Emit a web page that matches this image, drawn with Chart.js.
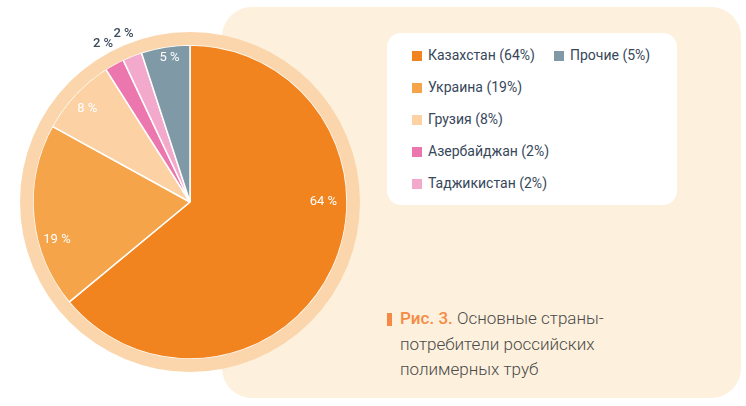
<!DOCTYPE html>
<html>
<head>
<meta charset="utf-8">
<script src="https://cdn.jsdelivr.net/npm/chart.js@4"></script>
<style>
  html, body { margin: 0; padding: 0; background: #fff; }
  body { width: 746px; height: 406px; position: relative; overflow: hidden; font-family: Roboto, "Noto Sans", sans-serif; }
  #panel { position: absolute; left: 222px; top: 7px; width: 519px; height: 391px; background: #fdf0dc; border-radius: 30px; }
  #legendBox { position: absolute; left: 387px; top: 33px; width: 290px; height: 172px; background: #fff; border-radius: 14px; }
  .item { position: absolute; font-size: 14px; color: #37475a; white-space: nowrap; line-height: 16px; }
  .item i { display: inline-block; width: 10px; height: 10px; margin-right: 6px; vertical-align: -1px; }
  #caption { position: absolute; left: 400px; top: 306px; font-size: 17px; line-height: 25.5px; font-weight: 300; color: #4a4a4a; }
  #caption b { color: #f58a45; font-weight: 500; }
  #bar { position: absolute; left: 387px; top: 313px; width: 5px; height: 13px; background: #f58a45; }
  #wrap { position: absolute; left: 10px; top: 22px; width: 360px; height: 360px; }
</style>
</head>
<body>
<div id="panel"></div>
<div id="legendBox"></div>
<div id="legend"></div>
<div id="bar"></div>
<div id="caption"><b>Рис. 3.</b> Основные страны-<br>потребители российских<br>полимерных труб</div>
<div id="wrap"><canvas id="pieChart"></canvas></div>
<script>
const countries = ["Казахстан", "Украина", "Грузия", "Азербайджан", "Таджикистан", "Прочие"];
const shares = [64, 19, 8, 2, 2, 5];
const colors = ["#f2841f", "#f6a449", "#fcd2a4", "#ec77ae", "#f3a9cc", "#7f99a7"];
// where each value label sits: fraction along the slice, fraction of radius
const labelAlong = [0.39, 0.35, 0.47, 0.5, 0.5, 0.55];
const labelRadius = [0.85, 0.88, 0.885, 1.15, 1.15, 0.93];

// html legend
const legend = document.getElementById("legend");
countries.forEach(function (name, i) {
  const el = document.createElement("div");
  el.className = "item";
  const col = i < 5 ? 0 : 1;
  const row = i < 5 ? i : i - 5;
  el.style.left = (col === 0 ? 412 : 554) + "px";
  el.style.top = (47 + row * 32) + "px";
  el.innerHTML = '<i style="background:' + colors[i] + '"></i>' + name + " (" + shares[i] + "%)";
  legend.appendChild(el);
});

const pieLabels = {
  id: "pieLabels",
  afterDatasetsDraw(chart) {
    const ctx = chart.ctx;
    const meta = chart.getDatasetMeta(1);
    ctx.save();
    ctx.textAlign = "center";
    ctx.textBaseline = "middle";
    meta.data.forEach(function (arc, i) {
      const p = arc.getProps(["x", "y", "startAngle", "endAngle", "outerRadius"], true);
      const a = p.startAngle + (p.endAngle - p.startAngle) * labelAlong[i];
      const r = p.outerRadius * labelRadius[i];
      const outside = labelRadius[i] > 1;
      ctx.font = outside ? "500 13px Roboto, sans-serif" : "13px Roboto, sans-serif";
      ctx.fillStyle = outside ? "#3d4c5e" : "#ffffff";
      ctx.fillText(shares[i] + " %", p.x + Math.cos(a) * r, p.y + Math.sin(a) * r);
    });
    ctx.restore();
  }
};

const ctx = document.getElementById("pieChart").getContext("2d");
const pieChart = new Chart(ctx, {
  type: "pie",
  data: {
    labels: countries,
    datasets: [
      {
        data: [100],
        backgroundColor: "#fbd6ac",
        borderWidth: 0,
        weight: 13,
      },
      {
        data: shares,
        backgroundColor: colors,
        borderColor: "#ffffff",
        borderWidth: 1.5,
        weight: 157,
      },
    ],
  },
  options: {
    responsive: true,
    maintainAspectRatio: false,
    animation: false,
    layout: { padding: 10 },
    plugins: {
      legend: { display: false },
      tooltip: { enabled: false },
    },
  },
  plugins: [pieLabels],
});
</script>
</body>
</html>
